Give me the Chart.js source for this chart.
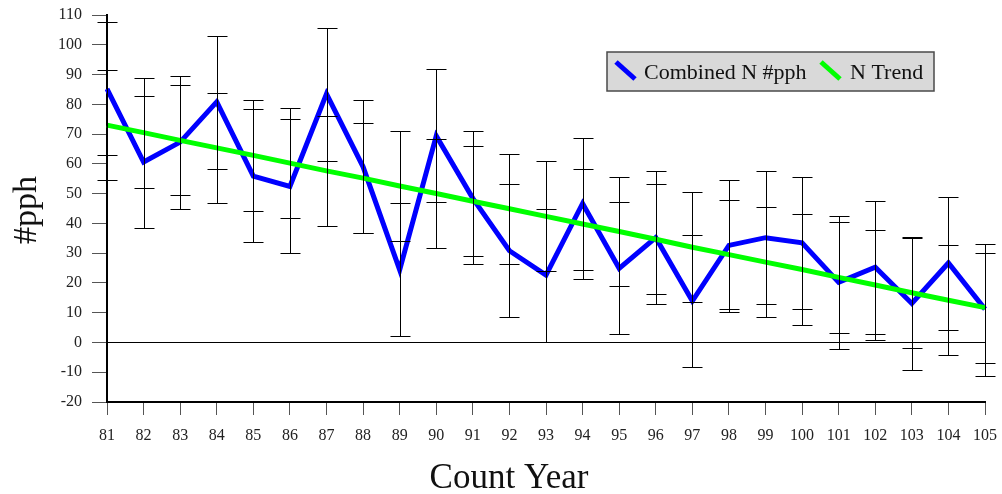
<!DOCTYPE html>
<html>
<head>
<meta charset="utf-8">
<script src="https://cdn.jsdelivr.net/npm/chart.js@4.4.0/dist/chart.umd.min.js"></script>
<style>
  html, body { margin: 0; padding: 0; background: #ffffff; }
  canvas { display: block; }
</style>
</head>
<body>
<canvas id="chart" width="1002" height="494"></canvas>
<script>
// Count years (x categories)
const years = ['81','82','83','84','85','86','87','88','89','90','91','92','93',
               '94','95','96','97','98','99','100','101','102','103','104','105'];

// Combined N birds per party-hour, with its error range
const combined     = [85.2, 60.6, 67.3, 80.8, 55.9, 52.4, 83.5, 59.0, 24.4, 69.4, 48.4, 30.8, 22.6,
                      46.7, 24.9, 35.2, 13.9, 32.6, 35.2, 33.5, 20.2, 25.3, 13.1, 26.7, 11.2];
const combinedLow  = [63.1, 38.3, 44.7, 58.4, 33.9, 30.2, 61.1, 36.8, 2.3, 47.2, 26.5, 8.5, 0.2,
                      24.3, 2.7, 12.9, -8.3, 10.3, 12.9, 11.1, -2.1, 2.9, -9.1, 4.3, -11.4];
const combinedHigh = [107.8, 82.8, 89.4, 103.1, 78.3, 74.9, 105.8, 81.4, 46.9, 91.8, 71.2, 53.1, 44.7,
                      68.8, 47.1, 57.5, 36.2, 54.7, 57.5, 55.7, 42.5, 47.4, 35.3, 48.9, 33.1];

// Linear trend and its band
const trend     = [73.0, 70.5, 67.9, 65.35, 62.85, 60.25, 57.65, 55.2, 52.55, 50.05, 47.45, 44.9, 42.35,
                   39.8, 37.25, 34.65, 32.0, 29.5, 27.0, 24.5, 21.85, 19.3, 16.7, 14.2, 11.7];
const trendLow  = [54.6, 52.0, 49.4, 46.9, 44.3, 41.8, 39.1, 36.8, 34.2, 31.6, 29.0, 26.5, 23.9,
                   21.3, 18.8, 16.2, 13.6, 11.1, 8.6, 6.0, 3.3, 0.9, -1.7, -4.2, -6.8];
const trendHigh = [91.4, 89.0, 86.4, 83.8, 81.4, 78.7, 76.2, 73.6, 70.9, 68.5, 65.9, 63.3, 60.8,
                   58.3, 55.7, 53.1, 50.5, 48.0, 45.4, 43.0, 40.4, 37.7, 35.1, 32.7, 30.1];

// Value axis range
const yMin = -20;
const yMax = 110;
const yStep = 10;

const seriesNames = ['Combined N #pph', 'N Trend'];
const seriesColors = ['#0000ff', '#00ff00'];

const SERIF = "'Liberation Serif', 'Times New Roman', serif";

// Paired error bars: one range around the counts, one around the trend
const errorBars = {
  id: 'errorBars',
  afterDatasetsDraw(chart) {
    const { ctx, scales: { x, y } } = chart;
    const ranges = [[combinedLow, combinedHigh], [trendLow, trendHigh]];
    ctx.save();
    ctx.strokeStyle = '#000000';
    ctx.lineWidth = 1;
    years.forEach((_, i) => {
      const px = Math.round(x.getPixelForValue(i)) + 0.5;
      ranges.forEach(([lo, hi]) => {
        const yl = Math.round(y.getPixelForValue(lo[i])) + 0.5;
        const yh = Math.round(y.getPixelForValue(hi[i])) + 0.5;
        ctx.beginPath();
        ctx.moveTo(px, yl); ctx.lineTo(px, yh);
        ctx.moveTo(px - 10, yl); ctx.lineTo(px + 10, yl);
        ctx.moveTo(px - 10, yh); ctx.lineTo(px + 10, yh);
        ctx.stroke();
      });
    });
    ctx.restore();
  }
};

// Axis titles and boxed legend
const decorations = {
  id: 'decorations',
  afterDraw(chart) {
    const { ctx } = chart;
    ctx.save();
    ctx.fillStyle = '#111111';

    // y title
    ctx.font = '34px ' + SERIF;
    ctx.textAlign = 'center';
    ctx.textBaseline = 'alphabetic';
    ctx.save();
    ctx.translate(35.5, 210);
    ctx.rotate(-Math.PI / 2);
    ctx.fillText('#pph', 0, 0);
    ctx.restore();

    // x title
    ctx.font = '35px ' + SERIF;
    ctx.fillText('Count Year', 509, 487.5);

    // legend box
    ctx.fillStyle = '#d9d9d9';
    ctx.fillRect(607, 52, 327, 39);
    ctx.strokeStyle = '#4a4a4a';
    ctx.lineWidth = 1.5;
    ctx.strokeRect(607, 52, 327, 39);

    const items = [
      { x1: 616, x2: 635, tx: 644 },
      { x1: 821, x2: 840, tx: 850 }
    ];
    ctx.font = '22px ' + SERIF;
    ctx.textAlign = 'left';
    items.forEach((it, k) => {
      ctx.strokeStyle = seriesColors[k];
      ctx.lineWidth = 5;
      ctx.lineCap = 'butt';
      ctx.beginPath();
      ctx.moveTo(it.x1, 62);
      ctx.lineTo(it.x2, 79);
      ctx.stroke();
      ctx.fillStyle = '#111111';
      ctx.fillText(seriesNames[k], it.tx, 78.5);
    });
    ctx.restore();
  }
};

new Chart(document.getElementById('chart'), {
  type: 'line',
  data: {
    labels: years,
    datasets: [
      {
        label: seriesNames[0],
        data: combined,
        borderColor: seriesColors[0],
        backgroundColor: seriesColors[0],
        borderWidth: 5,
        pointRadius: 0,
        tension: 0,
        borderJoinStyle: 'miter',
        order: 1
      },
      {
        label: seriesNames[1],
        data: trend,
        borderColor: seriesColors[1],
        backgroundColor: seriesColors[1],
        borderWidth: 5,
        pointRadius: 0,
        tension: 0,
        order: 0
      }
    ]
  },
  options: {
    responsive: false,
    animation: false,
    devicePixelRatio: 1,
    layout: { padding: { left: 0, right: 17, top: 15, bottom: 0 } },
    plugins: {
      legend: { display: false },
      tooltip: { enabled: false }
    },
    scales: {
      x: {
        offset: false,
        afterFit(scale) {
          scale.height = 92;
          scale.paddingLeft = 0;
          scale.paddingRight = 0;
        },
        grid: {
          drawOnChartArea: false,
          offset: false,
          tickLength: 13,
          tickColor: '#555555',
          tickWidth: 1
        },
        border: { display: true, color: '#000000', width: 2 },
        ticks: {
          autoSkip: false,
          maxRotation: 0,
          minRotation: 0,
          padding: 11,
          color: '#222222',
          font: { family: SERIF, size: 16 }
        }
      },
      y: {
        min: yMin,
        max: yMax,
        afterFit(scale) {
          scale.width = 107;
          scale.paddingTop = 0;
          scale.paddingBottom = 0;
        },
        grid: {
          drawOnChartArea: true,
          color: (c) => (c.tick && c.tick.value === 0 ? '#000000' : 'rgba(0,0,0,0)'),
          tickColor: '#555555',
          tickLength: 15,
          lineWidth: 1
        },
        border: { display: true, color: '#000000', width: 2 },
        ticks: {
          stepSize: yStep,
          padding: 10,
          color: '#222222',
          font: { family: SERIF, size: 16 }
        }
      }
    }
  },
  plugins: [errorBars, decorations]
});
</script>
</body>
</html>
